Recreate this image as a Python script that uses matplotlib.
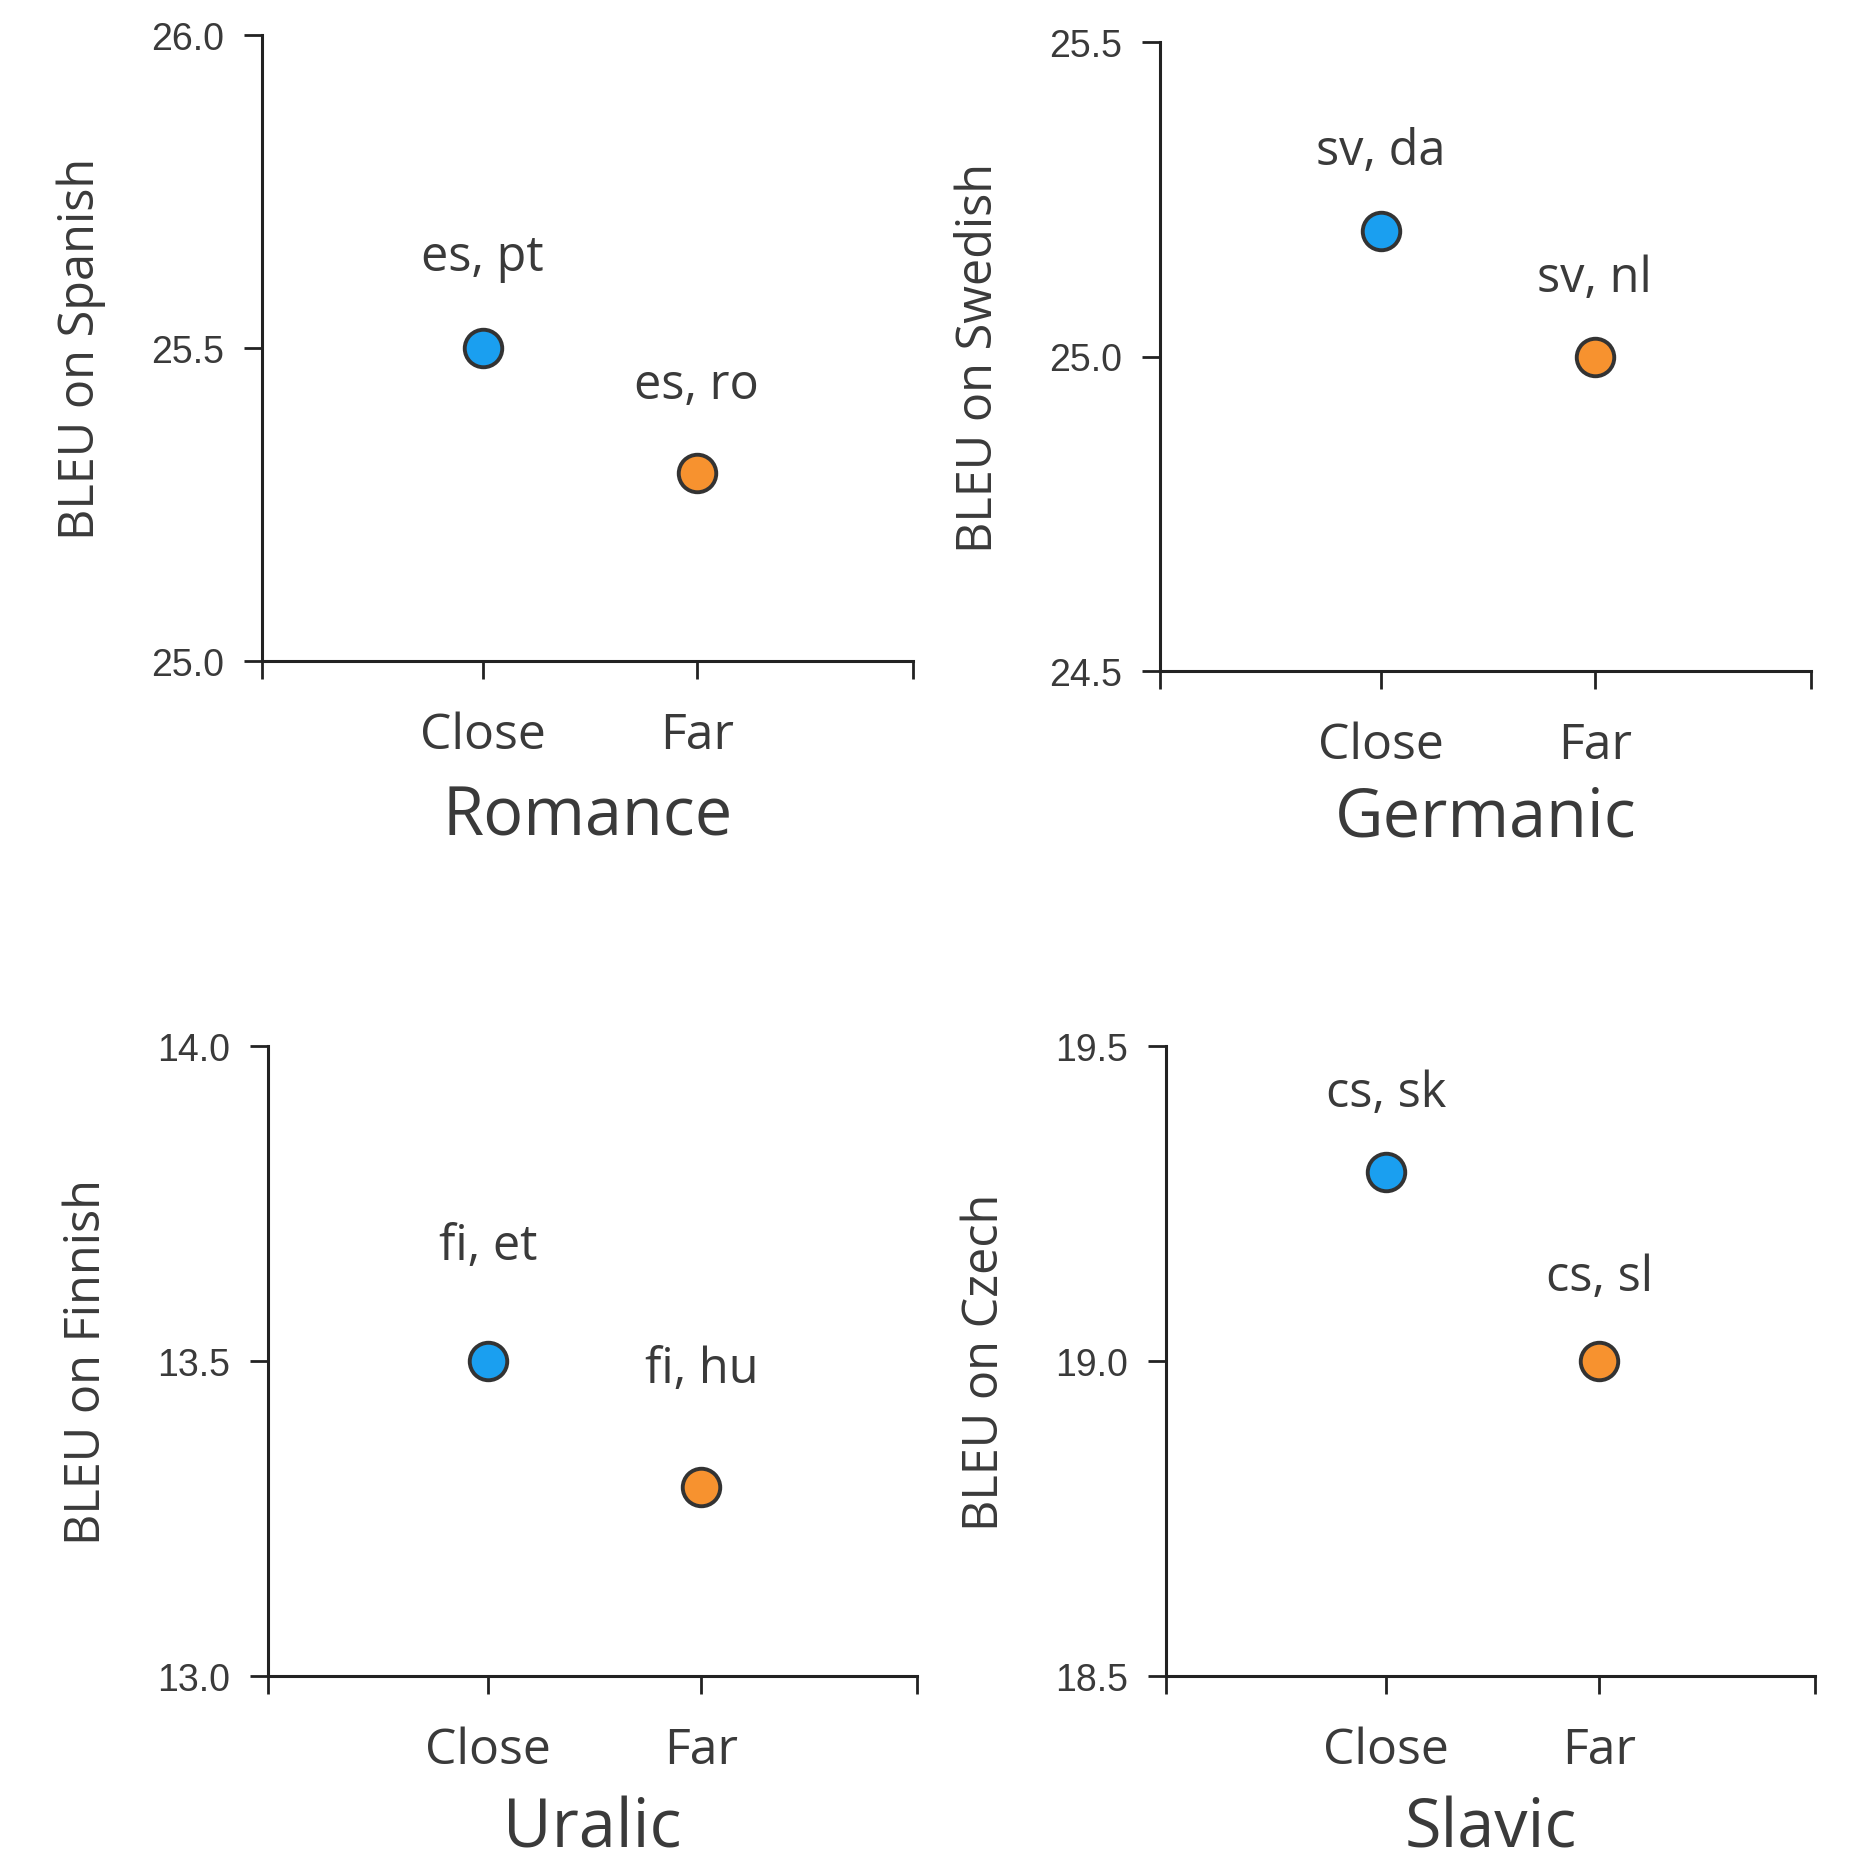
import matplotlib
matplotlib.use("Agg")
import matplotlib.pyplot as plt

groups = ["Romance", "Germanic", "Uralic", "Slavic"]
ylabels = ["BLEU on Spanish", "BLEU on Swedish", "BLEU on Finnish", "BLEU on Czech"]
categories = ["Close", "Far"]
close_vals = [25.5, 25.2, 13.5, 19.3]
far_vals = [25.3, 25.0, 13.3, 19.0]
close_pairs = ["es, pt", "sv, da", "fi, et", "cs, sk"]
far_pairs = ["es, ro", "sv, nl", "fi, hu", "cs, sl"]
ylims = [(25.0, 26.0), (24.5, 25.5), (13.0, 14.0), (18.5, 19.5)]

W = 1865
boxes = [(262, 36, 913, 662), (1160, 43, 1811, 672),
         (268, 1047, 917, 1677), (1166, 1047, 1815, 1677)]
label_off = [(91, 88), (79, 78), (115, 118), (79, 84)]  # pixel offsets of pair labels
title_pad = [16, 10, 14, 14]

fig = plt.figure(figsize=(18.65, 18.65), dpi=100)
txt_font = "Open Sans"
tick_font = "Liberation Sans"
grey = "#3a3a3a"

for i in range(4):
    l, t, r, b = boxes[i]
    ax = fig.add_axes([l / W, 1 - b / W, (r - l) / W, (b - t) / W])
    xs = [0, 1]
    vals = [close_vals[i], far_vals[i]]
    cols = ["#1a9ff0", "#f7922f"]
    for x, v, c in zip(xs, vals, cols):
        ax.plot([x], [v], "o", ms=27, mfc=c, mec="#333333", mew=2.8, zorder=3, clip_on=False)
    for x, v, s, off in zip(xs, vals, [close_pairs[i], far_pairs[i]], label_off[i]):
        ax.annotate(s, (x, v), xytext=(0, off * 0.72), textcoords="offset points",
                    ha="center", va="center", fontsize=35, family=txt_font, color=grey)
    ax.set_xlim(-1.03, 2.01)
    ax.set_ylim(*ylims[i])
    lo, hi = ylims[i]
    ax.set_yticks([lo, (lo + hi) / 2, hi])
    ax.set_yticklabels([f"{lo:.1f}", f"{(lo + hi) / 2:.1f}", f"{hi:.1f}"],
                       family=tick_font, fontsize=27, color=grey)
    ax.set_xticks([-1.03, 0, 1, 2.01])
    ax.set_xticklabels(["", categories[0], categories[1], ""], family=txt_font,
                       fontsize=36, color=grey)
    ax.tick_params(axis="both", length=13, width=2, color="#222222", pad=14)
    ax.tick_params(axis="x", pad=23)
    for sp in ["top", "right"]:
        ax.spines[sp].set_visible(False)
    for sp in ["left", "bottom"]:
        ax.spines[sp].set_linewidth(2.2)
        ax.spines[sp].set_color("#222222")
    ax.set_ylabel(ylabels[i], family=txt_font, fontsize=35, color=grey, labelpad=33)
    ax.set_xlabel(groups[i], family=txt_font, fontsize=48, color=grey, labelpad=title_pad[i])

fig.savefig("out.png", dpi=100, facecolor="white")
